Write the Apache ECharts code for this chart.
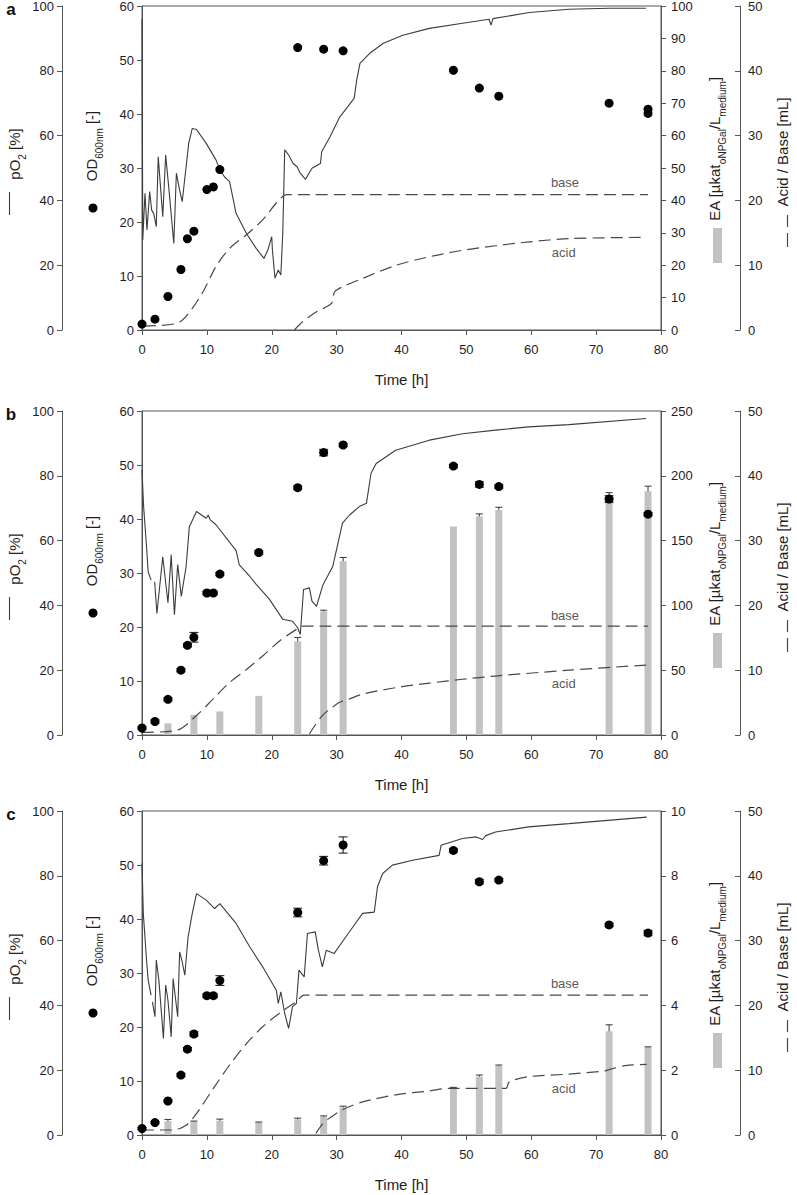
<!DOCTYPE html>
<html><head><meta charset="utf-8">
<script src="https://cdn.jsdelivr.net/npm/echarts@6/dist/echarts.min.js"></script>
<style>html,body{margin:0;padding:0;background:#fff}#c{width:797px;height:1195px}</style>
</head><body><div id="c"></div>
<script>
// ---------------- DATA ----------------
const timeMin = 0, timeMax = 80, timeStep = 10;

// Panel a
const aPo2T = [0,0.12,0.46,0.77,1.18,1.49,1.8,2.2,2.5,3.2,3.65,4.26,4.9,5.3,5.8,6.2,6.57,7.2,7.75,8.4,9.9,11.4,12.0,12.7,13.5,14.5,16.1,17.6,18.8,19.4,20.0,20.1,20.5,21.0,21.4,21.7,22.0,22.6,23.3,23.9,24.4,25.2,26.2,27.5,27.7,29.0,30.5,32.7,33.1,33.6,35.1,37.2,40.2,44.3,49.4,53.5,53.8,54.1,59.7,65.8,72.0,77.7];
const aPo2V = [96,27.8,42.2,30.9,42.7,37,36,31.9,53.5,35,54,41.1,26.7,48.4,43.2,39.6,46.3,57.6,62.2,61.9,57.6,52.5,49.5,47.3,45.8,36,29.8,25.2,22.1,24.7,28.8,24.7,16,18.5,17,30,55.6,54,51.4,50.4,48.4,46.5,49.9,51.4,55,59.7,65.8,71.5,77.2,82.3,85.4,88.5,91,93.1,94.7,95.9,94.1,96.1,98,99,99.3,99.3];
const aBaseT = [0.3,5.3,6.8,9.3,11.4,13.5,16.1,18.6,20.7,21.7,22.3,78];
const aBaseV = [0.6,1.0,2.1,5.7,9.8,12.6,14.7,17,19.6,20.6,20.9,20.9];
const aAcidT = [23.5,24.8,26.9,29.2,29.7,31,34.1,39.2,44.3,49.4,54.5,59.7,65.8,77.7];
const aAcidV = [0,1.3,2.8,4.1,5.9,6.7,8,10,11.3,12.3,13,13.6,14.1,14.3];
const aOdT = [0,2,4,6,7,8,10,11,12,24,28,31,48,52,55,72,78,78];
const aOdV = [1.1,2.0,6.2,11.2,16.9,18.3,26,26.5,29.7,52.3,52,51.7,48.1,44.8,43.3,42,40.9,40.1];
const aOdErr = [0,0,0,0,0,0,0,0,0,0,0,0,0,0,0,0,0,0];
const aEaT = [], aEaV = [], aEaErr = [];

// Panel b
const bPo2T = [0,0.25,0.7,0.95,1.4,1.6,1.95,2.3,3.2,4.0,4.5,5.0,5.5,6.06,6.8,7.3,8.4,9.9,10.2,10.5,11.4,14,14.5,15,16.6,17.6,19.6,21.7,23.2,24,24.4,24.9,25.8,26.2,26.9,27.9,29.4,30.9,32,33.5,34.6,35.3,36.1,39.1,44.3,49.4,54.5,59.6,65.8,77.7];
const bPo2V = [81.8,70.5,58.1,50.4,47.8,null,47.3,37.5,55,40.8,55.6,37.1,52.6,42.8,52,64.3,69,66.9,67.9,66.5,64.9,58.2,57,52.5,49,46.5,42,35.7,35.1,33.1,31.0,44.9,45.4,41.3,39.7,46.4,52,65.4,67.9,70.5,71.5,80.8,83.8,87.9,91,93,94.1,95.1,95.8,97.7];
const bBaseT = [0,5.3,8.4,10.9,13.5,16.1,18.6,21.2,23.8,24.8,78];
const bBaseV = [0.4,0.7,3,5.5,8.1,10.1,12.2,14.5,16.3,16.8,16.8];
const bAcidT = [25.8,27.8,30.4,31.8,34,39.1,44.3,49.4,54.5,65.8,77.8];
const bAcidV = [0.15,3,5,5.5,6.3,7.3,8,8.6,9.1,10,10.8];
const bOdT = [0,2,4,6,7,8,10,11,12,18,24,28,31,48,52,55,72,78];
const bOdV = [1.3,2.5,6.6,12,16.6,18.1,26.3,26.3,29.8,33.8,45.8,52.3,53.7,49.8,46.4,46,43.7,40.9];
const bOdErr = [0.2,0.3,0.3,0.3,0.3,0.9,0.3,0.3,0.3,0.3,0.3,0.6,0.3,0.3,0.5,0.3,0.6,0.3];
const bEaT = [4,8,12,18,24,28,31,48,52,55,72,78];
const bEaV = [9,15.6,18.2,30.2,72.3,95.3,134,160.9,168.6,173.7,184,188];
const bEaErr = [0,0,0,0,3,1,3,0,2,2,3,4];

// Panel c
const cPo2T = [0,0.2,0.7,0.95,1.4,1.5,1.6,2.0,2.2,2.6,3.3,3.65,4.0,4.5,4.8,5.5,5.8,6.2,6.6,7.1,7.75,8.4,9.9,11.2,12.0,14.5,16.6,18.6,20.7,21.0,21.4,22.0,22.6,23.2,23.8,24.2,25.0,25.5,26.7,27.2,27.8,28.4,29.6,31.4,32.5,34,35.8,36.3,37.1,38.6,41.7,45.8,46.1,49.4,51.5,52.5,53,54.5,59.6,65.8,77.8];
const cPo2V = [83.8,68.4,54,47.8,43.2,null,41.1,36.5,54,47.8,29.8,46.3,41.6,30.3,48.3,36.5,56.5,53.4,49.3,61.1,68.4,74.5,72.5,69.9,71.4,65.3,58.1,51.9,44.7,40.6,44.2,37.5,32.9,39.6,40.6,50.9,48.8,62.2,62.7,57,51.9,57,56,61.1,64.2,68.4,68.8,76.6,80.7,83.3,84.8,86.3,89.4,91.5,92,91.2,92.4,93.5,95.1,96.1,98.1];
const cBaseT = [0,4.8,6.8,8.4,11,13.5,16.1,18.6,21.2,23.8,25,78];
const cBaseV = [0.77,0.77,1.5,3.3,7.2,10.8,14.1,16.7,18.8,20.6,21.6,21.6];
const cAcidT = [26.8,27.9,28.9,30.9,34,39.1,44.3,47.3,56.1,56.6,59.6,65.8,71.4,72,74.5,77.8];
const cAcidV = [0.25,1.8,2.6,3.9,5.1,6.2,6.8,7.2,7.2,8.2,9,9.4,9.9,10.1,10.7,10.9];
const cOdT = [0,2,4,6,7,8,10,11,12,24,28,31,48,52,55,72,78];
const cOdV = [1.2,2.3,6.3,11.1,15.9,18.7,25.8,25.8,28.6,41.2,50.8,53.7,52.7,46.9,47.2,38.9,37.4];
const cOdErr = [0.2,0.2,0.2,0.3,0.3,0.4,0.3,0.3,0.9,0.8,0.8,1.5,0.3,0.4,0.3,0.3,0.5];
const cEaT = [4,8,12,18,24,28,31,48,52,55,72,78];
const cEaV = [0.43,0.41,0.44,0.38,0.48,0.56,0.85,1.46,1.8,2.13,3.2,2.7];
const cEaErr = [0.05,0.02,0.05,0.02,0.04,0.03,0.04,0.01,0.05,0.03,0.2,0.02];

// axis ranges per panel
const odMax = 60, odStep = 10;
const po2Max = 100, po2Step = 20;
const abMax = 50, abStep = 10;
const eaMaxList = [100, 250, 10];
const eaStepList = [10, 50, 2];
const panelLetters = ['a','b','c'];
// annotation anchors (data coords: time, acid/base mL)
const baseLabelAt = [[65.2,22.7],[65.2,18.5],[65.2,23.4]];
const acidLabelAt = [[65.0,11.9],[65.0,8.0],[65.0,7.2]];

// ---------------- BUILD ----------------
const FF = '"Liberation Sans", Arial, sans-serif';
const AX = '#555';
const TXT = '#1e1e1e';
const tops = [6, 411, 811];
const H = 324;

function zip(t, v, e) { return t.map((x, i) => e ? [x, v[i], e[i]] : [x, v[i]]); }

const P = [
  {po2:[aPo2T,aPo2V], base:[aBaseT,aBaseV], acid:[aAcidT,aAcidV], od:[aOdT,aOdV,aOdErr], ea:[aEaT,aEaV,aEaErr]},
  {po2:[bPo2T,bPo2V], base:[bBaseT,bBaseV], acid:[bAcidT,bAcidV], od:[bOdT,bOdV,bOdErr], ea:[bEaT,bEaV,bEaErr]},
  {po2:[cPo2T,cPo2V], base:[cBaseT,cBaseV], acid:[cAcidT,cAcidV], od:[cOdT,cOdV,cOdErr], ea:[cEaT,cEaV,cEaErr]}
];

function yAx(g, pos, offset, max, interval, inside, margin) {
  return {type:'value', gridIndex:g, position:pos, offset:offset, min:0, max:max, interval:interval,
    axisLine:{show:true, onZero:false, lineStyle:{color:AX, width:1}},
    axisTick:{show:true, inside:inside, length:5, lineStyle:{color:AX, width:1}},
    axisLabel:{margin:margin, fontSize:13, color:TXT, fontFamily:FF},
    splitLine:{show:false}};
}

const grid = [], xAxis = [], yAxis = [], series = [], graphic = [];
const mStyle = {fontSize:15, lineHeight:17, verticalAlign:'top', fontFamily:FF, color:TXT};
const sStyle = {fontSize:10, lineHeight:20, verticalAlign:'bottom', fontFamily:FF, color:TXT};

P.forEach((p, i) => {
  const T = tops[i];
  grid.push({left:142, right:136, top:T, height:H, show:true, borderColor:AX, borderWidth:1, backgroundColor:'transparent', containLabel:false, outerBoundsMode:'none'});
  xAxis.push({type:'value', gridIndex:i, min:timeMin, max:timeMax, interval:timeStep,
    axisLine:{show:true, onZero:false, lineStyle:{color:AX, width:1}},
    axisTick:{show:true, length:5, lineStyle:{color:AX}},
    axisLabel:{margin:13, fontSize:13, color:TXT, fontFamily:FF},
    splitLine:{show:false},
    name:'Time [h]', nameLocation:'middle', nameGap:42,
    nameTextStyle:{fontSize:15, color:TXT, fontFamily:FF}});
  yAxis.push(yAx(i, 'left', 0, odMax, odStep, false, 8));        // 4i   OD
  yAxis.push(yAx(i, 'left', 80, po2Max, po2Step, false, 8));     // 4i+1 pO2
  yAxis.push(yAx(i, 'right', 0, eaMaxList[i], eaStepList[i], false, 10)); // 4i+2 EA
  yAxis.push(yAx(i, 'right', 79, abMax, abStep, true, 8));       // 4i+3 Acid/Base

  // EA bars
  if (p.ea[0].length) {
    series.push({type:'bar', xAxisIndex:i, yAxisIndex:4*i+2, data:zip(p.ea[0], p.ea[1]), barWidth:7,
      itemStyle:{color:'#c2c2c2', opacity:1}, z:1, silent:true});
    series.push({type:'custom', xAxisIndex:i, yAxisIndex:4*i+2, data:zip(p.ea[0], p.ea[1], p.ea[2]),
      encode:{x:0, y:1}, z:2, silent:true,
      renderItem:(params, api) => {
        const x = api.value(0), y = api.value(1), e = api.value(2);
        if (!e) return null;
        const a = api.coord([x, y]), b = api.coord([x, y + e]);
        const st = {stroke:'#333', lineWidth:1};
        return {type:'group', children:[
          {type:'line', shape:{x1:a[0], y1:a[1], x2:b[0], y2:b[1]}, style:st},
          {type:'line', shape:{x1:b[0]-3.5, y1:b[1], x2:b[0]+3.5, y2:b[1]}, style:st}]};
      }});
  }
  // pO2
  series.push({type:'line', xAxisIndex:i, yAxisIndex:4*i+1, data:zip(p.po2[0], p.po2[1]), showSymbol:false,
    connectNulls:false, lineStyle:{color:'#3c3c3c', width:1.1}, z:3, silent:true});
  // base / acid
  series.push({type:'line', xAxisIndex:i, yAxisIndex:4*i+3, data:zip(p.base[0], p.base[1]), showSymbol:false, smooth:0.3,
    lineStyle:{color:'#484848', width:1.2, type:[12,6]}, z:3, silent:true});
  series.push({type:'line', xAxisIndex:i, yAxisIndex:4*i+3, data:zip(p.acid[0], p.acid[1]), showSymbol:false, smooth:0.3,
    lineStyle:{color:'#484848', width:1.2, type:[12,6]}, z:3, silent:true});
  // OD error bars
  series.push({type:'custom', xAxisIndex:i, yAxisIndex:4*i, data:zip(p.od[0], p.od[1], p.od[2]),
    encode:{x:0, y:1}, z:4, silent:true,
    renderItem:(params, api) => {
      const x = api.value(0), y = api.value(1), e = api.value(2);
      if (!e) return null;
      const a = api.coord([x, y - e]), b = api.coord([x, y + e]);
      const st = {stroke:'#111', lineWidth:1};
      return {type:'group', children:[
        {type:'line', shape:{x1:a[0], y1:a[1], x2:b[0], y2:b[1]}, style:st},
        {type:'line', shape:{x1:a[0]-4.5, y1:a[1], x2:a[0]+4.5, y2:a[1]}, style:st},
        {type:'line', shape:{x1:b[0]-4.5, y1:b[1], x2:b[0]+4.5, y2:b[1]}, style:st}]};
    }});
  // OD points
  series.push({type:'scatter', xAxisIndex:i, yAxisIndex:4*i, data:zip(p.od[0], p.od[1]), symbol:'circle', symbolSize:9,
    itemStyle:{color:'#000', opacity:1}, z:5, silent:true});
  // base / acid annotations
  series.push({type:'scatter', xAxisIndex:i, yAxisIndex:4*i+3, symbolSize:1, itemStyle:{color:'rgba(0,0,0,0)'}, z:5, silent:true,
    data:[{value:baseLabelAt[i], label:{formatter:'base'}}, {value:acidLabelAt[i], label:{formatter:'acid'}}],
    label:{show:true, position:'inside', fontSize:13, color:'#2a2a2a', fontFamily:FF}});

  // panel letter
  graphic.push({type:'text', x:11, y:T + 3, style:{text:panelLetters[i], font:'bold 17px ' + FF, fill:'#111', align:'center', verticalAlign:'middle', textAlign:'center', textVerticalAlign:'middle'}});
  // axis titles (rotated)
  const titles = [
    {x:7, y:T+148, text:'{m|pO}{s|2}{m| [%]}'},
    {x:84, y:T+140, text:'{m|OD}{s|600nm}{m| [-]}'},
    {x:707, y:T+143, text:'{m|EA [µkat}{s|oNPGal}{m|/L}{s|medium}{m|]}'},
    {x:775, y:T+146, text:'{m|Acid / Base [mL]}'}
  ];
  titles.forEach(tt => graphic.push({type:'text', x:tt.x, y:tt.y, rotation:Math.PI/2,
    style:{text:tt.text, rich:{m:mStyle, s:sStyle}, align:'center', verticalAlign:'top', textAlign:'center', textVerticalAlign:'top', fill:TXT}}));
  // legend icons
  graphic.push({type:'line', shape:{x1:9.5, y1:T+186, x2:9.5, y2:T+209}, style:{stroke:'#3c3c3c', lineWidth:1.1}});
  graphic.push({type:'circle', shape:{cx:93, cy:T+202, r:4.5}, style:{fill:'#000'}});
  graphic.push({type:'rect', shape:{x:713, y:T+222, width:9, height:35}, style:{fill:'#c2c2c2'}});
  graphic.push({type:'line', shape:{x1:787.5, y1:T+209, x2:787.5, y2:T+221}, style:{stroke:'#484848', lineWidth:1.2}});
  graphic.push({type:'line', shape:{x1:787.5, y1:T+227, x2:787.5, y2:T+241}, style:{stroke:'#484848', lineWidth:1.2}});
});

const chart = echarts.init(document.getElementById('c'), null, {renderer:'svg', width:797, height:1195});
chart.setOption({animation:false, backgroundColor:'#fff', grid, xAxis, yAxis, series, graphic});
</script>
</body></html>
